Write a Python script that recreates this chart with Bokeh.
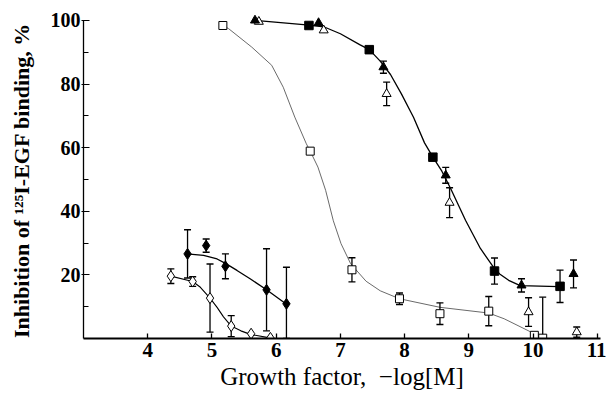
from bokeh.plotting import figure
from bokeh.models import Range1d, FixedTicker
from bokeh.embed import file_html
from bokeh.resources import INLINE

# ---- data ----
# filled squares
fsq_x = [6.51, 7.45, 8.44, 9.40, 10.42]
fsq_y = [98.4, 90.8, 57.0, 21.2, 16.4]
fsq_err = [0, 0, 0, 4.1, 5.1]
# filled triangles
ftri_x = [5.67, 6.66, 7.67, 8.64, 9.82, 10.63]
ftri_y = [100.0, 99.2, 85.3, 51.3, 16.7, 20.3]
ftri_err = [0, 0, 1.9, 2.5, 2.1, 4.4]
# open triangles
otri_x = [5.73, 6.74, 7.72, 8.70, 9.93, 10.68]
otri_y = [99.6, 96.9, 76.9, 42.7, 8.3, 2.0]
otri_err = [0, 0, 3.7, 4.7, 4.5, 1.6]
# open squares
osq_x = [5.17, 6.53, 7.18, 7.92, 8.55, 9.31, 10.02, 10.15]
osq_y = [98.4, 58.9, 21.6, 12.5, 7.8, 8.6, 1.0, 0.1]
osq_err = [0, 0, 3.8, 1.8, 3.4, 4.6, 0, 12.9]
# filled diamonds
fdia_x = [4.62, 4.91, 5.21, 5.85, 6.16]
fdia_y = [26.6, 29.2, 22.7, 15.3, 10.9]
fdia_err = [7.6, 2.1, 3.9, 12.9, 11.5]
# open diamonds
odia_x = [4.36, 4.70, 4.97, 5.30, 5.61, 5.91]
odia_y = [19.6, 17.9, 12.7, 3.9, 1.5, 0.2]
odia_err = [2.3, 1.5, 10.7, 3.3, 0, 0]

# fitted curves
main_curve_x = [5.67, 6.47, 6.74, 7.0, 7.3, 7.45, 7.62, 7.78, 7.95, 8.14, 8.31, 8.44,
                8.58, 8.72, 8.95, 9.18, 9.38, 9.48, 9.62, 9.80, 10.40]
main_curve_y = [100.0, 98.6, 98.0, 95.8, 92.4, 90.8, 87.2, 83.0, 76.9, 69.5, 61.5, 57.0,
                52.6, 47.0, 37.1, 28.3, 22.5, 20.3, 18.3, 16.6, 16.3]
osq_curve_x = [5.17, 5.26, 5.62, 5.93, 6.11, 6.29, 6.47, 6.53, 6.65, 6.77, 6.89, 7.01,
               7.16, 7.40, 7.62, 7.92, 8.55, 9.31, 9.55, 9.97, 10.15]
osq_curve_y = [98.4, 97.4, 91.6, 85.9, 79.0, 69.6, 61.2, 58.9, 53.9, 46.6, 37.0, 29.8,
               23.5, 18.0, 15.0, 12.5, 9.8, 8.0, 6.2, 2.0, 0.0]
fdia_curve_x = [4.61, 4.87, 5.08, 5.21, 5.39, 5.60, 5.85, 6.15]
fdia_curve_y = [26.6, 26.1, 25.0, 23.6, 21.4, 18.7, 15.3, 10.9]
odia_curve_x = [4.36, 4.70, 4.82, 4.97, 5.08, 5.18, 5.30, 5.45, 5.60, 5.90]
odia_curve_y = [19.6, 17.9, 16.1, 12.7, 9.8, 6.8, 3.9, 2.4, 1.3, 0.2]

x_ticks = [4, 5, 6, 7, 8, 9, 10, 11]
y_ticks = [20, 40, 60, 80, 100]
y_minor = [10, 30, 50, 70, 90]
x_title = "Growth factor,\u00a0 \u2212log[M]"
y_title = "Inhibition of \u00b9\u00b2\u2075I-EGF binding, %\u00a0\u00a0"

SERIF = "Liberation Serif"

p = figure(width=606, height=393, x_range=Range1d(3, 11.05), y_range=Range1d(0, 102.8),
           output_backend="svg", toolbar_location=None,
           min_border_left=83, min_border_right=6, min_border_top=11, min_border_bottom=55)
p.outline_line_color = None
p.grid.visible = False
p.background_fill_color = "white"

# curves
p.line(main_curve_x, main_curve_y, line_color="black", line_width=1.3)
p.line(osq_curve_x, osq_curve_y, line_color="#6a6a6a", line_width=1.0)
p.line(fdia_curve_x, fdia_curve_y, line_color="black", line_width=1.3)
p.line(odia_curve_x, odia_curve_y, line_color="black", line_width=1.1)


def errbars(xs, ys, es):
    bx, lo, hi = [], [], []
    for x, y, e in zip(xs, ys, es):
        if e > 0:
            bx.append(x)
            lo.append(max(y - e, 0))
            hi.append(y + e)
    if bx:
        p.segment(bx, lo, bx, hi, line_color="black", line_width=1.3)
        p.scatter(bx + bx, hi + lo, marker="dash", size=7, line_color="black", line_width=1.4)


for xs, ys, es in [(fsq_x, fsq_y, fsq_err), (ftri_x, ftri_y, ftri_err), (otri_x, otri_y, otri_err),
                   (osq_x, osq_y, osq_err), (fdia_x, fdia_y, fdia_err), (odia_x, odia_y, odia_err)]:
    errbars(xs, ys, es)

# markers
p.scatter(osq_x, osq_y, marker="square", size=8, fill_color="white", line_color="black", line_width=1.0)
p.scatter(otri_x, otri_y, marker="triangle", size=9, fill_color="white", line_color="black", line_width=1.0)
p.scatter(odia_x, odia_y, marker="diamond", size=11, fill_color="white", line_color="black", line_width=1.0)
p.scatter(fsq_x, fsq_y, marker="square", size=8.5, fill_color="black", line_color="black")
p.scatter(ftri_x, ftri_y, marker="triangle", size=9, fill_color="black", line_color="black")
p.scatter(fdia_x, fdia_y, marker="diamond", size=11, fill_color="black", line_color="black")

# axes
xa = p.xaxis[0]
xa.ticker = FixedTicker(ticks=x_ticks, minor_ticks=[])
xa.axis_line_width = 1.8
xa.axis_line_color = "black"
xa.major_tick_in = 5
xa.major_tick_out = 0
xa.minor_tick_in = 0
xa.minor_tick_out = 0
xa.major_tick_line_width = 1.3
xa.major_label_standoff = 4
xa.major_label_text_font = SERIF
xa.major_label_text_font_style = "bold"
xa.major_label_text_font_size = "21px"
xa.major_label_text_color = "black"
xa.axis_label = x_title
xa.axis_label_text_font = SERIF
xa.axis_label_text_font_style = "normal"
xa.axis_label_text_font_size = "25px"
xa.axis_label_text_color = "black"
xa.axis_label_standoff = 3

ya = p.yaxis[0]
ya.ticker = FixedTicker(ticks=y_ticks, minor_ticks=y_minor)
ya.bounds = (0, 100)
ya.axis_line_width = 1.3
ya.axis_line_color = "black"
ya.major_tick_in = 6
ya.major_tick_out = 2
ya.minor_tick_in = 5
ya.minor_tick_out = 0
ya.major_tick_line_width = 1.2
ya.minor_tick_line_width = 1.2
ya.minor_tick_line_color = "black"
ya.major_label_standoff = 1
ya.major_label_text_font = SERIF
ya.major_label_text_font_style = "bold"
ya.major_label_text_font_size = "20px"
ya.major_label_text_color = "black"
ya.axis_label = y_title
ya.axis_label_text_font = SERIF
ya.axis_label_text_font_style = "bold"
ya.axis_label_text_font_size = "22px"
ya.axis_label_text_color = "black"
ya.axis_label_standoff = 14

open("out.html", "w").write(file_html(p, INLINE))
